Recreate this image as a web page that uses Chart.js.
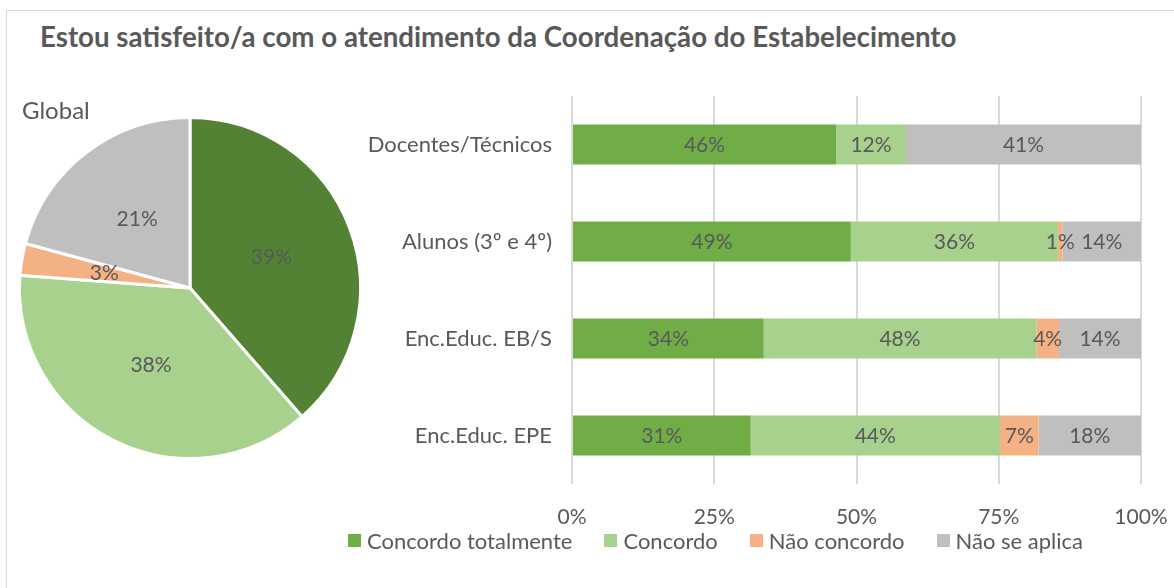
<!DOCTYPE html>
<html>
<head>
<meta charset="utf-8">
<script src="https://cdn.jsdelivr.net/npm/chart.js@4/dist/chart.umd.min.js"></script>
<style>
  html, body { margin: 0; padding: 0; background: #fff; }
  body { width: 1174px; height: 588px; position: relative; overflow: hidden; font-family: Lato, 'Open Sans', sans-serif; }
  #frame { position: absolute; left: 6px; top: 10px; width: 1200px; height: 600px; border-left: 1px solid #D9D9D9; border-top: 1px solid #D9D9D9; }
  #title { position: absolute; left: 40px; top: 20px; font-size: 27.7px; font-weight: bold; color: #595959; white-space: nowrap; }
  #global { position: absolute; left: 22px; top: 95px; font-size: 24px; color: #595959; }
  #barWrap { position: absolute; left: 0; top: 0; width: 1174px; height: 588px; }
  #pieWrap { position: absolute; left: 0; top: 98px; width: 380px; height: 380px; }
  #legend { position: absolute; left: 348px; top: 527px; display: flex; align-items: center; font-size: 22px; color: #595959; white-space: nowrap; }
  #legend .item { display: flex; align-items: center; margin-right: 32px; }
  #legend .box { width: 13px; height: 13px; margin-right: 6px; }
</style>
</head>
<body>
<div id="frame"></div>
<div id="title">Estou satisfeito/a com o atendimento da Coordenação do Estabelecimento</div>
<div id="barWrap"><canvas id="bars"></canvas></div>
<div id="pieWrap"><canvas id="pie"></canvas></div>
<div id="global">Global</div>
<div id="legend"></div>
<script>
  // answer categories
  var answers = ['Concordo totalmente', 'Concordo', 'Não concordo', 'Não se aplica'];
  var barColors = ['#70AD47', '#A9D18E', '#F4B183', '#BFBFBF'];
  var pieColors = ['#548235', '#A9D18E', '#F4B183', '#BFBFBF'];

  // global pie (%)
  var globalValues = [38.6, 37.6, 3.0, 20.8];

  // groups and their answers (%)
  var groups = ['Docentes/Técnicos', 'Alunos (3º e 4º)', 'Enc.Educ. EB/S', 'Enc.Educ. EPE'];
  var concordoTotalmente = [46.4, 49.0, 33.7, 31.4];
  var concordo = [12.3, 36.4, 47.9, 43.8];
  var naoConcordo = [0, 0.8, 4.0, 6.8];
  var naoSeAplica = [41.3, 13.8, 14.4, 18.0];

  var xTicks = [0, 25, 50, 75, 100];

  var textColor = '#595959';
  var fontFamily = 'Lato, "Open Sans", sans-serif';
  Chart.defaults.font.family = fontFamily;
  Chart.defaults.color = textColor;

  // legend as plain html, same colours as the bars
  var legendEl = document.getElementById('legend');
  answers.forEach(function (name, i) {
    var item = document.createElement('div');
    item.className = 'item';
    var box = document.createElement('span');
    box.className = 'box';
    box.style.background = barColors[i];
    var txt = document.createElement('span');
    txt.textContent = name;
    item.appendChild(box);
    item.appendChild(txt);
    legendEl.appendChild(item);
  });

  var barLabels = {
    id: 'barLabels',
    afterDatasetsDraw: function (chart) {
      var ctx = chart.ctx;
      ctx.save();
      ctx.font = '21px ' + fontFamily;
      ctx.fillStyle = textColor;
      ctx.textAlign = 'center';
      ctx.textBaseline = 'middle';
      chart.data.datasets.forEach(function (ds, i) {
        chart.getDatasetMeta(i).data.forEach(function (el, j) {
          var v = ds.data[j];
          if (!v) return;
          var p = el.getProps(['x', 'y', 'base'], true);
          ctx.fillText(Math.round(v) + '%', (p.x + p.base) / 2, p.y + 1);
        });
      });
      ctx.restore();
    }
  };

  var pieLabels = {
    id: 'pieLabels',
    afterDatasetsDraw: function (chart) {
      var ctx = chart.ctx;
      ctx.save();
      ctx.font = '21px ' + fontFamily;
      ctx.fillStyle = textColor;
      ctx.textAlign = 'center';
      ctx.textBaseline = 'middle';
      var ds = chart.data.datasets[0];
      chart.getDatasetMeta(0).data.forEach(function (el, j) {
        var p = el.getProps(['x', 'y', 'startAngle', 'endAngle', 'outerRadius'], true);
        var a = (p.startAngle + p.endAngle) / 2;
        var r = p.outerRadius * 0.51;
        ctx.fillText(Math.round(ds.data[j]) + '%', p.x + Math.cos(a) * r, p.y + Math.sin(a) * r);
      });
      ctx.restore();
    }
  };

  new Chart(document.getElementById('pie'), {
    type: 'pie',
    data: {
      labels: answers,
      datasets: [{
        data: globalValues,
        backgroundColor: pieColors,
        borderColor: '#ffffff',
        borderWidth: 3,
        hoverOffset: 0
      }]
    },
    options: {
      responsive: true,
      maintainAspectRatio: false,
      animation: false,
      layout: { padding: 18 },
      plugins: { legend: { display: false }, tooltip: { enabled: false } }
    },
    plugins: [pieLabels]
  });

  var series = [concordoTotalmente, concordo, naoConcordo, naoSeAplica];
  new Chart(document.getElementById('bars'), {
    type: 'bar',
    data: {
      labels: groups,
      datasets: series.map(function (vals, i) {
        return {
          label: answers[i],
          data: vals,
          backgroundColor: barColors[i],
          borderWidth: 0,
          categoryPercentage: 1,
          barPercentage: 0.41
        };
      })
    },
    options: {
      indexAxis: 'y',
      responsive: true,
      maintainAspectRatio: false,
      animation: false,
      layout: { autoPadding: false, padding: { left: 291, right: 33, top: 96, bottom: 56 } },
      scales: {
        x: {
          stacked: true,
          min: 0,
          max: 100,
          afterBuildTicks: function (scale) {
            scale.ticks = xTicks.map(function (v) { return { value: v }; });
          },
          afterFit: function (scale) {
            scale.height = 48;
            scale.paddingLeft = 0;
            scale.paddingRight = 0;
          },
          grid: { color: '#D9D9D9', lineWidth: 2, drawTicks: false },
          border: { display: false },
          ticks: {
            padding: 21,
            font: { size: 21 },
            color: textColor,
            callback: function (v) { return v + '%'; }
          }
        },
        y: {
          stacked: true,
          afterFit: function (scale) {
            scale.width = 281;
            scale.paddingTop = 0;
            scale.paddingBottom = 0;
          },
          grid: { display: false },
          border: { display: false },
          ticks: { padding: 12, font: { size: 22 }, color: textColor }
        }
      },
      plugins: {
        tooltip: { enabled: false },
        legend: { display: false }
      }
    },
    plugins: [barLabels]
  });
</script>
</body>
</html>
